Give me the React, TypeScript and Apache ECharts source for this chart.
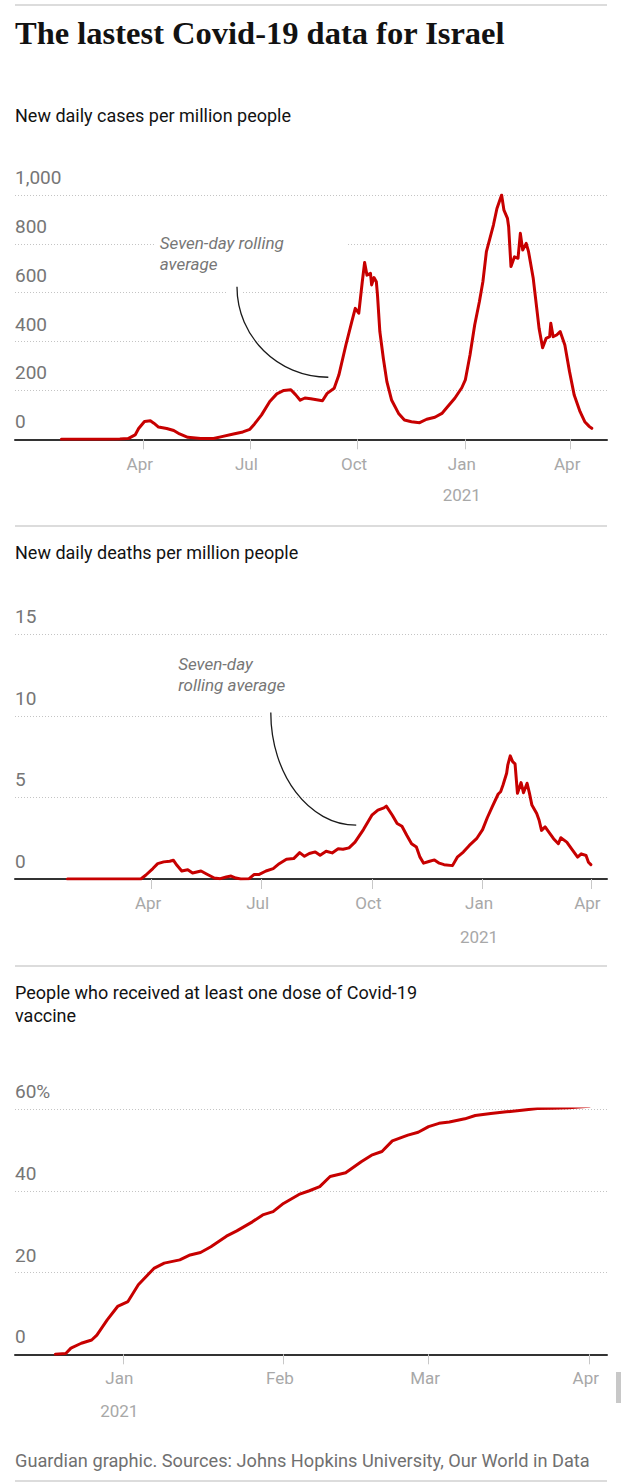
import { useEffect, useRef } from 'react';
import * as echarts from 'echarts';

// 新增病例（每百万人，7日均值）— 从图上读取
const CASES: [string, number][] = [
  ['2020-01-22', 0], ['2020-03-01', 0], ['2020-03-12', 1], ['2020-03-19', 3],
  ['2020-03-25', 18], ['2020-03-28', 44], ['2020-04-02', 73], ['2020-04-07', 76],
  ['2020-04-10', 66], ['2020-04-14', 50], ['2020-04-21', 44], ['2020-04-27', 36],
  ['2020-05-02', 22], ['2020-05-09', 8], ['2020-05-20', 3], ['2020-05-31', 3],
  ['2020-06-07', 11], ['2020-06-17', 22], ['2020-06-25', 30], ['2020-07-01', 41],
  ['2020-07-05', 63], ['2020-07-11', 100], ['2020-07-18', 155], ['2020-07-24', 186],
  ['2020-07-30', 200], ['2020-08-05', 203], ['2020-08-09', 183], ['2020-08-13', 160],
  ['2020-08-17', 169], ['2020-08-22', 166], ['2020-08-27', 162], ['2020-09-01', 158],
  ['2020-09-05', 188], ['2020-09-11', 209], ['2020-09-15', 263], ['2020-09-21', 386],
  ['2020-09-26', 481], ['2020-09-29', 536], ['2020-10-02', 516], ['2020-10-05', 645],
  ['2020-10-07', 724], ['2020-10-09', 672], ['2020-10-12', 679], ['2020-10-13', 632],
  ['2020-10-15', 662], ['2020-10-17', 645], ['2020-10-18', 590], ['2020-10-20', 441],
  ['2020-10-23', 331], ['2020-10-26', 236], ['2020-10-30', 161], ['2020-11-05', 106],
  ['2020-11-10', 79], ['2020-11-16', 72], ['2020-11-23', 68], ['2020-11-29', 82],
  ['2020-12-06', 90], ['2020-12-12', 106], ['2020-12-17', 134], ['2020-12-23', 168],
  ['2020-12-29', 211], ['2021-01-01', 243], ['2021-01-05', 345], ['2021-01-09', 468],
  ['2021-01-13', 563], ['2021-01-16', 645], ['2021-01-19', 768], ['2021-01-22', 822],
  ['2021-01-25', 877], ['2021-01-28', 945], ['2021-01-30', 972], ['2021-02-01', 1000],
  ['2021-02-03', 938], ['2021-02-06', 904], ['2021-02-07', 870], ['2021-02-09', 707],
  ['2021-02-12', 747], ['2021-02-15', 741], ['2021-02-17', 843], ['2021-02-19', 775],
  ['2021-02-22', 802], ['2021-02-24', 768], ['2021-02-28', 659], ['2021-03-03', 536],
  ['2021-03-05', 454], ['2021-03-08', 375], ['2021-03-11', 413], ['2021-03-14', 420],
  ['2021-03-15', 475], ['2021-03-17', 420], ['2021-03-20', 427], ['2021-03-23', 441],
  ['2021-03-27', 386], ['2021-03-31', 277], ['2021-04-04', 181], ['2021-04-09', 113],
  ['2021-04-13', 72], ['2021-04-17', 52], ['2021-04-19', 45],
];

// 新增死亡（每百万人，7日均值）
const DEATHS: [string, number][] = [
  ['2020-01-22', 0], ['2020-03-23', 0], ['2020-03-27', 0.23], ['2020-04-02', 0.64],
  ['2020-04-06', 0.94], ['2020-04-11', 1.05], ['2020-04-16', 1.09], ['2020-04-19', 1.15],
  ['2020-04-22', 0.84], ['2020-04-26', 0.49], ['2020-05-01', 0.57], ['2020-05-05', 0.37],
  ['2020-05-12', 0.49], ['2020-05-17', 0.29], ['2020-05-23', 0.06], ['2020-05-28', 0.02],
  ['2020-06-02', 0.12], ['2020-06-06', 0.18], ['2020-06-10', 0.06], ['2020-06-14', 0],
  ['2020-06-21', 0.02], ['2020-06-25', 0.27], ['2020-06-29', 0.27], ['2020-07-05', 0.49],
  ['2020-07-11', 0.64], ['2020-07-16', 0.94], ['2020-07-22', 1.21], ['2020-07-28', 1.25],
  ['2020-08-02', 1.62], ['2020-08-06', 1.39], ['2020-08-10', 1.56], ['2020-08-15', 1.66],
  ['2020-08-19', 1.46], ['2020-08-24', 1.7], ['2020-08-29', 1.6], ['2020-09-03', 1.85],
  ['2020-09-07', 1.82], ['2020-09-12', 1.91], ['2020-09-17', 2.26], ['2020-09-24', 3.03],
  ['2020-10-01', 3.91], ['2020-10-06', 4.22], ['2020-10-11', 4.36], ['2020-10-13', 4.47],
  ['2020-10-18', 3.91], ['2020-10-22', 3.4], ['2020-10-26', 3.23], ['2020-10-30', 2.68],
  ['2020-11-03', 2.16], ['2020-11-07', 1.96], ['2020-11-10', 1.34], ['2020-11-13', 0.97],
  ['2020-11-18', 1.09], ['2020-11-22', 1.17], ['2020-11-26', 0.97], ['2020-11-30', 0.88],
  ['2020-12-07', 0.82], ['2020-12-11', 1.34], ['2020-12-16', 1.65], ['2020-12-21', 2.06],
  ['2020-12-27', 2.47], ['2021-01-01', 3.03], ['2021-01-05', 3.77], ['2021-01-09', 4.42],
  ['2021-01-14', 5.21], ['2021-01-16', 5.35], ['2021-01-18', 5.76], ['2021-01-21', 6.48],
  ['2021-01-22', 7.0], ['2021-01-24', 7.55], ['2021-01-26', 7.2], ['2021-01-28', 7.06],
  ['2021-01-30', 5.25], ['2021-02-02', 5.91], ['2021-02-04', 5.29], ['2021-02-07', 5.87],
  ['2021-02-09', 5.25], ['2021-02-11', 4.53], ['2021-02-15', 4.01], ['2021-02-17', 3.6],
  ['2021-02-19', 2.98], ['2021-02-22', 3.19], ['2021-02-26', 2.78], ['2021-03-01', 2.47],
  ['2021-03-05', 2.16], ['2021-03-07', 2.53], ['2021-03-12', 2.26], ['2021-03-16', 1.85],
  ['2021-03-21', 1.34], ['2021-03-24', 1.54], ['2021-03-28', 1.44], ['2021-03-30', 1.03],
  ['2021-04-01', 0.88],
];

// 至少接种一剂疫苗的人口比例（%）
const VACCINE: [string, number][] = [
  ['2020-12-19', 0], ['2020-12-21', 0.2], ['2020-12-22', 1.5], ['2020-12-24', 2.7],
  ['2020-12-26', 3.5], ['2020-12-27', 4.7], ['2020-12-29', 8.4], ['2020-12-31', 11.7],
  ['2021-01-02', 12.9], ['2021-01-04', 17.0], ['2021-01-07', 21.0], ['2021-01-09', 22.3],
  ['2021-01-12', 23.1], ['2021-01-14', 24.3], ['2021-01-16', 24.9], ['2021-01-18', 26.3],
  ['2021-01-21', 28.9], ['2021-01-23', 30.2], ['2021-01-26', 32.4], ['2021-01-28', 34.1],
  ['2021-01-30', 34.9], ['2021-02-01', 36.9], ['2021-02-04', 39.1], ['2021-02-06', 40.0],
  ['2021-02-08', 41.0], ['2021-02-10', 43.5], ['2021-02-13', 44.4], ['2021-02-16', 47.1],
  ['2021-02-18', 48.7], ['2021-02-20', 49.6], ['2021-02-22', 52.2], ['2021-02-25', 53.6],
  ['2021-02-27', 54.3], ['2021-03-01', 55.7], ['2021-03-03', 56.5], ['2021-03-05', 56.8],
  ['2021-03-08', 57.6], ['2021-03-10', 58.4], ['2021-03-13', 58.9], ['2021-03-16', 59.3],
  ['2021-03-19', 59.7], ['2021-03-22', 60.1], ['2021-03-25', 60.2], ['2021-03-28', 60.3],
  ['2021-04-01', 60.7],
];

// 刻度
const QUARTER_TICKS = ['2020-04-01', '2020-07-01', '2020-10-01', '2021-01-01', '2021-04-01'];
const MONTH_TICKS = ['2021-01-01', '2021-02-01', '2021-03-01', '2021-04-01'];
const MONTHS = ['Jan', 'Feb', 'Mar', 'Apr', 'May', 'Jun', 'Jul', 'Aug', 'Sep', 'Oct', 'Nov', 'Dec'];

const TITLE = 'The lastest Covid-19 data for Israel';
const SUBTITLES = [
  ['New daily cases per million people'],
  ['New daily deaths per million people'],
  ['People who received at least one dose of Covid-19', 'vaccine'],
];
const FOOTER = 'Guardian graphic. Sources: Johns Hopkins University, Our World in Data';

// 注释：文字位置和弧线端点（数据坐标）
const NOTES = [
  { grid: 0, lines: ['Seven-day rolling', 'average'], at: ['2020-04-15', 804] as [string, number], from: ['2020-06-20', 624] as [string, number], to: ['2020-09-06', 254] as [string, number], box: true },
  { grid: 1, lines: ['Seven-day', 'rolling average'], at: ['2020-04-23', 13.2] as [string, number], from: ['2020-07-09', 10.2] as [string, number], to: ['2020-09-18', 3.3] as [string, number], box: false },
];

const RED = '#c70000';
const FONT = 'Roboto, "Noto Sans", sans-serif';

function utc(s: string) {
  const [y, m, d] = s.split('-').map(Number);
  return Date.UTC(y, m - 1, d);
}

/** 日期轴：用 value 轴承载时间戳，刻度自定义 */
function makeXAxis(gridIndex: number, min: number, max: number, ticks: string[], margin: number, yearGap: number) {
  const values = ticks.map(utc);
  return {
    type: 'value' as const,
    gridIndex,
    min,
    max,
    axisLine: { onZero: false, lineStyle: { color: '#333', width: 2 } },
    axisTick: { customValues: values, length: 10, lineStyle: { color: '#c8c8c8', width: 1 } },
    axisLabel: {
      customValues: values,
      margin,
      padding: [0, 7, 0, 0],
      hideOverlap: false,
      formatter: (v: number) => {
        const d = new Date(v);
        const m = MONTHS[d.getUTCMonth()];
        return d.getUTCMonth() === 0 ? `{m|${m}}\n{y|${d.getUTCFullYear()}}` : `{m|${m}}`;
      },
      rich: {
        m: { fontSize: 17, lineHeight: 20, color: '#a8a8a8', fontFamily: FONT },
        y: { fontSize: 17, lineHeight: 2 * (yearGap - 10), color: '#a8a8a8', fontFamily: FONT },
      },
    },
    splitLine: { show: false },
  };
}

function makeYAxis(gridIndex: number, max: number, interval: number, fmt: (v: number) => string) {
  return {
    type: 'value' as const,
    gridIndex,
    min: 0,
    max,
    interval,
    axisLine: { show: false },
    axisTick: { show: false },
    splitLine: { lineStyle: { color: '#c4c4c4', type: [1, 2], width: 1 } },
    axisLabel: {
      inside: true,
      verticalAlign: 'bottom',
      margin: 0,
      padding: [0, 0, 8, 0],
      lineHeight: 19,
      color: '#767676',
      fontSize: 19,
      fontFamily: FONT,
      formatter: fmt,
    },
  };
}

function makeSeries(i: number, points: [string, number][]) {
  return {
    type: 'line' as const,
    xAxisIndex: i,
    yAxisIndex: i,
    data: points.map(([d, v]) => [utc(d), v]),
    showSymbol: false,
    symbol: 'none',
    silent: true,
    lineStyle: { color: RED, width: 3, cap: 'round', join: 'round' },
  };
}

function text(t: string, x: number, y: number, font: string, fill: string) {
  return { type: 'text', x, y, z: 11, silent: true, style: { text: t, font, fill, verticalAlign: 'middle', align: 'left' } };
}

function rule(y: number) {
  return { type: 'rect', z: 11, silent: true, shape: { x: 15, y, width: 592, height: 2 }, style: { fill: '#dcdcdc' } };
}

export default function App() {
  const ref = useRef<HTMLDivElement>(null);

  useEffect(() => {
    if (!ref.current) return;
    const chart = echarts.init(ref.current, undefined, { renderer: 'svg' });

    chart.setOption({
      animation: false,
      grid: [
        { left: 15, right: 14, top: 195, height: 244.3, containLabel: false, outerBoundsMode: 'none' },
        { left: 15, right: 14, top: 634.3, height: 244.7, containLabel: false, outerBoundsMode: 'none' },
        { left: 15, right: 14, top: 1109, height: 245.3, containLabel: false, outerBoundsMode: 'none' },
      ],
      xAxis: [
        makeXAxis(0, Date.UTC(2019, 11, 13, 10), Date.UTC(2021, 4, 2), QUARTER_TICKS, 15, 31),
        makeXAxis(1, Date.UTC(2019, 11, 9, 10), Date.UTC(2021, 3, 14, 10), QUARTER_TICKS, 14, 33.5),
        makeXAxis(2, Date.UTC(2020, 11, 11, 5), Date.UTC(2021, 3, 4, 10), MONTH_TICKS, 13.5, 33.5),
      ],
      yAxis: [
        makeYAxis(0, 1000, 200, (v) => v.toLocaleString('en-US')),
        makeYAxis(1, 15, 5, (v) => String(v)),
        makeYAxis(2, 60, 20, (v) => (v === 60 ? '60%' : String(v))),
      ],
      series: [makeSeries(0, CASES), makeSeries(1, DEATHS), makeSeries(2, VACCINE)],
    });

    const px = (gi: number, p: [string, number]) =>
      chart.convertToPixel({ gridIndex: gi }, [utc(p[0]), p[1]]) as number[];

    const elements: any[] = [
      rule(4),
      text(TITLE, 15, 33, 'bold 32.5px "Liberation Serif", serif', '#121212'),
      text(SUBTITLES[0][0], 15, 115, `18px ${FONT}`, '#121212'),
      rule(525),
      text(SUBTITLES[1][0], 15, 552, `18px ${FONT}`, '#121212'),
      rule(965),
      text(SUBTITLES[2][0], 15, 992, `18px ${FONT}`, '#121212'),
      text(SUBTITLES[2][1], 15, 1015, `18px ${FONT}`, '#121212'),
      text(FOOTER, 15, 1460, `18.2px ${FONT}`, '#707070'),
      rule(1480),
      { type: 'rect', z: 11, silent: true, shape: { x: 616, y: 1372, width: 5, height: 31 }, style: { fill: '#c8c8c8' } },
    ];

    for (const n of NOTES) {
      const [tx, ty] = px(n.grid, n.at);
      const [sx, sy] = px(n.grid, n.from);
      const [ex, ey] = px(n.grid, n.to);
      if (n.box) {
        elements.push({ type: 'rect', z: 10, silent: true, shape: { x: tx - 4, y: ty - 11, width: 192, height: 43 }, style: { fill: '#fff' } });
      }
      elements.push({ type: 'rect', z: 10, silent: true, shape: { x: sx - 9, y: sy + 1, width: 15, height: 8 }, style: { fill: '#fff' } });
      n.lines.forEach((l, i) => elements.push(text(l, tx, ty + i * 21, `italic 17px ${FONT}`, '#767676')));
      elements.push({
        type: 'bezierCurve',
        z: 11,
        silent: true,
        shape: {
          x1: sx, y1: sy,
          cpx1: sx, cpy1: sy + 0.552 * (ey - sy),
          cpx2: ex - 0.552 * (ex - sx), cpy2: ey,
          x2: ex, y2: ey,
        },
        style: { stroke: '#1a1a1a', lineWidth: 1.3, fill: null },
      });
    }

    chart.setOption({ graphic: { elements } });

    return () => chart.dispose();
  }, []);

  return <div ref={ref} style={{ position: 'absolute', left: 0, top: 0, width: 621, height: 1483, background: '#fff' }} />;
}
